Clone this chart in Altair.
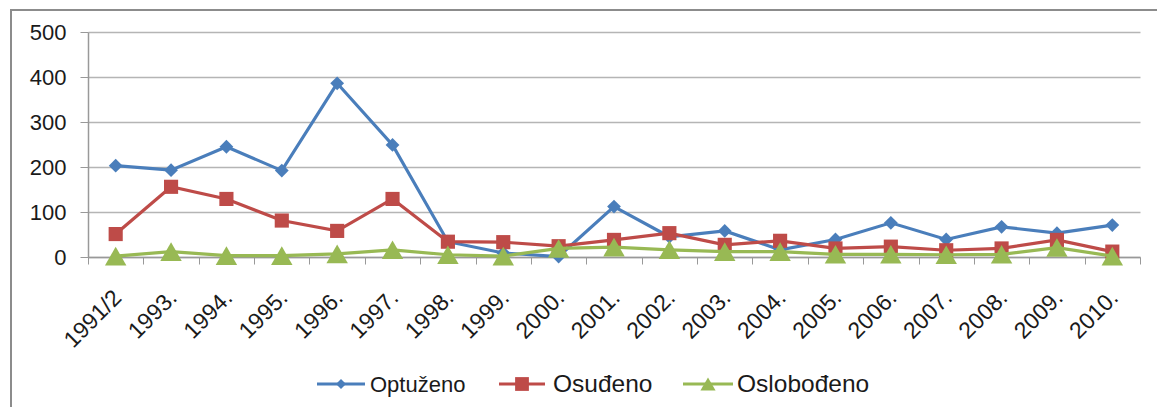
import altair as alt
import pandas as pd

categories = ["1991/2", "1993.", "1994.", "1995.", "1996.", "1997.", "1998.", "1999.", "2000.",
              "2001.", "2002.", "2003.", "2004.", "2005.", "2006.", "2007.", "2008.", "2009.", "2010."]
optuzeno = [203, 193, 245, 192, 386, 249, 34, 9, 1, 112, 45, 58, 16, 39, 76, 39, 67, 53, 71]
osudjeno = [51, 156, 129, 81, 58, 129, 34, 33, 24, 38, 53, 27, 36, 19, 23, 15, 19, 38, 12]
oslobodjeno = [2, 12, 3, 3, 7, 16, 5, 2, 19, 22, 16, 12, 12, 6, 6, 5, 6, 21, 2]
series_names = ["Optuženo", "Osuđeno", "Oslobođeno"]
y_ticks = [0, 100, 200, 300, 400, 500]

colors = ["#4a7ebb", "#be4b48", "#98b954"]
shapes = ["diamond", "square", "triangle-up"]
sizes = [190, 200, 460]

rows = []
for name, vals in zip(series_names, [optuzeno, osudjeno, oslobodjeno]):
    for c, v in zip(categories, vals):
        rows.append({"cat": c, "value": v, "series": name})
df = pd.DataFrame(rows)

FONT = "Liberation Sans"

x_enc = alt.X("cat:N", sort=categories,
              scale=alt.Scale(type="band", paddingInner=0, paddingOuter=0),
              axis=alt.Axis(title=None, tickBand="extent", grid=False, labelAngle=-45,
                            labelAlign="right", labelBaseline="top", labelPadding=22,
                            labelOffset=-6, labelFont=FONT, labelFontSize=23,
                            labelColor="#1a1a1a", tickColor="#999999", tickSize=7,
                            domainColor="#999999", domainWidth=1.5))
y_enc = alt.Y("value:Q", scale=alt.Scale(domain=[0, 500], nice=False),
              axis=alt.Axis(title=None, values=y_ticks, grid=True, gridColor="#b5b5b5",
                            gridWidth=1.5, labelFont=FONT, labelFontSize=22,
                            labelColor="#1a1a1a", labelPadding=14, tickColor="#999999",
                            tickSize=8, domainColor="#999999", domainWidth=1.5))

layers = []
for name, col, shp, sz in zip(series_names, colors, shapes, sizes):
    sub = df[df.series == name]
    base = alt.Chart(sub).encode(x=x_enc, y=y_enc)
    layers.append(base.mark_line(color=col, strokeWidth=3.2))
    layers.append(base.mark_point(color=col, filled=True, opacity=1, shape=shp, size=sz))

# frame around the chart
frame_df = pd.DataFrame({"k": [0]})
frame = alt.Chart(frame_df).mark_rect(fill=None, stroke="#8c8c8c", strokeWidth=2).encode(
    x=alt.value(-77), x2=alt.value(1200), y=alt.value(-22), y2=alt.value(500))

# manual legend
leg_y = 352
leg_specs = [
    (229, 277, 253, 282, 22, 100),
    (411, 457, 434, 465, 24.5, 190),
    (595, 645, 620, 649, 24.5, 230),
]
legend_layers = []
for (name, col, shp), (x1, x2, xs, xt, fs, ls) in zip(zip(series_names, colors, shapes), leg_specs):
    ldf = pd.DataFrame({"series": [name]})
    lb = alt.Chart(ldf)
    legend_layers.append(lb.mark_rule(color=col, strokeWidth=3.2).encode(
        x=alt.value(x1), x2=alt.value(x2), y=alt.value(leg_y)))
    legend_layers.append(lb.mark_point(color=col, filled=True, opacity=1, shape=shp, size=ls).encode(
        x=alt.value(xs), y=alt.value(leg_y)))
    legend_layers.append(lb.mark_text(align="left", baseline="middle", font=FONT, fontSize=fs,
                                      color="#1a1a1a").encode(
        x=alt.value(xt), y=alt.value(leg_y + 1), text="series:N"))

chart = alt.layer(frame, *layers, *legend_layers).properties(
    width=1052, height=225,
    padding={"left": 80, "top": 24, "right": 17, "bottom": 150},
    autosize=alt.AutoSizeParams(type="none"),
    background="white",
).configure_view(stroke=None)

chart.save("out.html", embed_options={"renderer": "svg", "actions": False})
